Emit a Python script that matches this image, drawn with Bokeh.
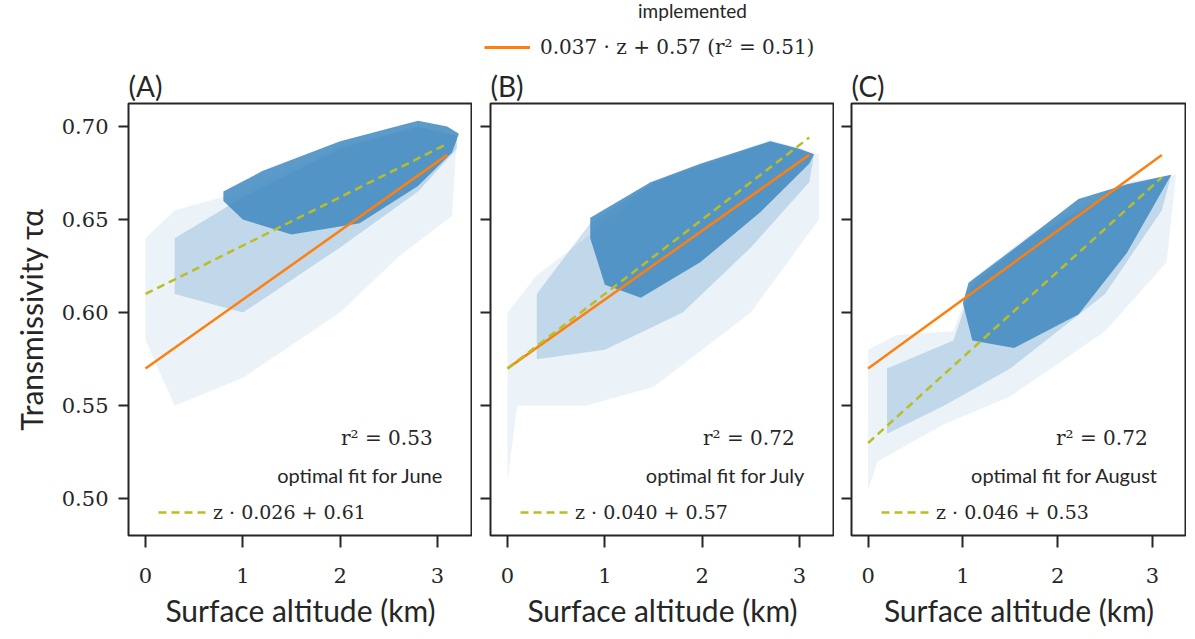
from bokeh.plotting import figure
from bokeh.layouts import column, row
from bokeh.models import Legend, LegendItem, Label, CustomJSTickFormatter
from bokeh.embed import file_html
from bokeh.resources import INLINE

months = ["June", "July", "August"]
panels = ["(A)", "(B)", "(C)"]
r2 = ["0.53", "0.72", "0.72"]
slopes = [0.026, 0.040, 0.046]
intercepts = [0.61, 0.57, 0.53]
impl_slope, impl_icpt = 0.037, 0.57
fit_x = [0.0, 3.1]

# point-cloud envelopes: (x, upper) then (x, lower)
faint = [
    ([0, 0.3, 1, 2, 2.8, 3.2], [0.64, 0.655, 0.665, 0.69, 0.70, 0.695],
     [3.15, 2.6, 2, 1, 0.3, 0], [0.652, 0.63, 0.60, 0.565, 0.55, 0.585]),
    ([0, 0.3, 0.8, 1.5, 2.7, 3.2], [0.60, 0.62, 0.64, 0.67, 0.693, 0.685],
     [3.2, 2.5, 1.5, 0.8, 0.1, 0], [0.65, 0.60, 0.56, 0.55, 0.55, 0.51]),
    ([0, 0.3, 0.9, 1.1, 1.7, 2.7, 3.25], [0.58, 0.588, 0.59, 0.618, 0.642, 0.67, 0.674],
     [3.15, 2.5, 1.5, 0.8, 0.1, 0], [0.627, 0.59, 0.555, 0.54, 0.52, 0.505]),
]
medium = [
    ([0.3, 1, 2, 2.8, 3.2], [0.64, 0.662, 0.688, 0.70, 0.695],
     [3.2, 2.8, 2, 1, 0.3], [0.688, 0.665, 0.635, 0.60, 0.61]),
    ([0.3, 0.85, 1.5, 2.7, 3.15], [0.61, 0.648, 0.67, 0.692, 0.685],
     [3.1, 2.5, 1.8, 1, 0.3], [0.67, 0.635, 0.60, 0.58, 0.575]),
    ([0.2, 0.9, 1.1, 1.7, 2.7, 3.2], [0.57, 0.585, 0.615, 0.64, 0.668, 0.674],
     [3.1, 2.5, 1.5, 0.8, 0.2], [0.655, 0.61, 0.57, 0.55, 0.535]),
]
core = [
    ([0.8, 1.2, 2, 2.8, 3.1, 3.22], [0.665, 0.676, 0.692, 0.703, 0.700, 0.696],
     [3.15, 2.8, 2.2, 1.5, 1.0, 0.8], [0.686, 0.668, 0.648, 0.642, 0.650, 0.660]),
    ([0.85, 1.47, 1.98, 2.7, 3.0, 3.15], [0.651, 0.67, 0.68, 0.692, 0.688, 0.685],
     [3.1, 2.6, 1.98, 1.37, 1.0, 0.85], [0.68, 0.654, 0.627, 0.608, 0.615, 0.640]),
    ([1.06, 1.71, 2.22, 2.73, 3.2], [0.616, 0.641, 0.661, 0.669, 0.674],
     [3.11, 2.73, 2.22, 1.54, 1.1, 1.0], [0.666, 0.632, 0.599, 0.581, 0.585, 0.605]),
]

SANS = "Lato"
SERIF = "DejaVu Serif"
BLUE = "#3f88bf"
INK = "#262626"

top = figure(width=1178, height=65, x_range=(0, 1178), y_range=(0, 65),
             toolbar_location=None, output_backend="svg", min_border=0)
top.axis.visible = False
top.grid.visible = False
top.outline_line_color = None
top.add_layout(Label(x=692, y=55, text="implemented", text_align="center",
                     text_baseline="middle", text_font=SANS, text_font_size="19px",
                     text_color=INK))
dummy = top.line([-20, -10], [-20, -20], line_color="#ff7f0e", line_width=3)
lg = Legend(items=[LegendItem(label="0.037 · z + 0.57 (r² = 0.51)", renderers=[dummy])],
            location=(484, 6), background_fill_alpha=0, border_line_color=None,
            label_text_font=SERIF, label_text_font_size="20px", glyph_width=46,
            label_standoff=10, label_text_color=INK)
top.add_layout(lg)

figs = []
for i in range(3):
    p = figure(frame_width=344 if i < 2 else 335, frame_height=432,
               x_range=(-0.175, 3.36), y_range=(0.4803, 0.7123),
               toolbar_location=None, output_backend="svg",
               min_border_left=128 if i == 0 else (18 if i == 1 else 17),
               min_border_right=0, min_border_top=32, min_border_bottom=99,
               title=panels[i])
    p.title.text_font = SANS
    p.title.text_font_size = "28px"
    p.title.text_font_style = "normal"
    p.title.text_color = INK
    p.title.standoff = 2
    p.grid.visible = False
    p.outline_line_color = INK
    p.outline_line_width = 2
    p.outline_line_alpha = 1
    p.axis.axis_line_color = None
    p.axis.major_tick_in = 0
    p.axis.minor_tick_line_color = None
    p.axis.major_tick_line_width = 2
    p.axis.major_tick_line_color = INK
    p.xaxis.major_tick_out = 12
    p.yaxis.major_tick_out = 10
    p.xaxis.ticker = [0, 1, 2, 3]
    p.yaxis.ticker = [0.50, 0.55, 0.60, 0.65, 0.70]
    p.axis.major_label_text_font = SERIF
    p.axis.major_label_text_font_size = "21px"
    p.axis.major_label_text_color = INK
    p.xaxis.major_label_standoff = 20
    p.xaxis.axis_label = "Surface altitude (km)"
    p.axis.axis_label_text_font = SANS
    p.axis.axis_label_text_font_size = "30px"
    p.axis.axis_label_text_font_style = "normal"
    p.axis.axis_label_text_color = INK
    p.xaxis.axis_label_standoff = 6
    if i == 0:
        p.yaxis.axis_label = "Transmissivity τα"
        p.yaxis.major_label_standoff = 10
        p.yaxis.axis_label_standoff = 10
        p.yaxis.formatter = CustomJSTickFormatter(code="return tick.toFixed(2)")
    else:
        p.yaxis.formatter = CustomJSTickFormatter(code="return ''")
        p.yaxis.major_label_standoff = 0

    for layer, alpha in ((faint, 0.10), (medium, 0.25), (core, 0.85)):
        ux, uy, lx, ly = layer[i]
        p.patch(ux + lx, uy + ly, fill_color=BLUE, fill_alpha=alpha, line_color=None)

    p.line(fit_x, [impl_icpt + impl_slope * x for x in fit_x],
           line_color="#ff7f0e", line_width=2.5)
    fit = p.line(fit_x, [intercepts[i] + slopes[i] * x for x in fit_x],
                 line_color="#bcbd22", line_width=2.5, line_dash="8 5")

    p.add_layout(Label(x=2.95, y=0.5325, text=f"r² = {r2[i]}", text_align="right",
                       text_baseline="middle", text_font=SERIF, text_font_size="20px",
                       text_color=INK))
    p.add_layout(Label(x=3.06, y=0.5128, text=f"optimal fit for {months[i]}",
                       text_align="right", text_baseline="middle",
                       text_font=SANS, text_font_size="20px", text_color=INK))
    leg = Legend(items=[LegendItem(label=f"z · {slopes[i]:.3f} + {intercepts[i]:.2f}",
                                   renderers=[fit])],
                 location=(30, 12), background_fill_alpha=0, border_line_color=None,
                 label_text_font=SERIF, label_text_font_size="19px", glyph_width=50,
                 label_text_color=INK)
    p.add_layout(leg)
    figs.append(p)

layout = column(top, row(*figs))
open("out.html", "w").write(file_html(layout, INLINE))
